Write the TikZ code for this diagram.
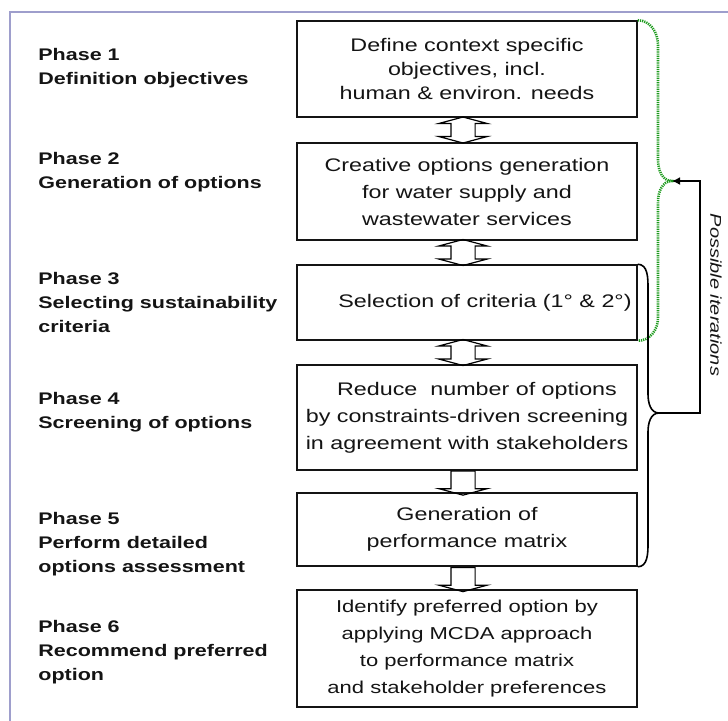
\documentclass[tikz,border=0pt]{standalone}
\usepackage{fontspec}
\setmainfont{Liberation Sans}[FakeStretch=1.28]
\usetikzlibrary{arrows.meta, shapes.arrows, calc}
\definecolor{framecol}{RGB}{158,158,204}
\definecolor{itergreen}{RGB}{30,155,30}
\definecolor{inkgray}{RGB}{20,20,20}

\begin{document}
\begin{tikzpicture}[x=0.5pt, y=-0.5pt,
    phase/.style={anchor=west, align=left, inner sep=0pt, text=inkgray,
        font=\fontsize{8.4}{12}\selectfont\bfseries},
    stage/.style={draw=inkgray, line width=0.75pt, fill=white, minimum width=170pt,
        align=center, inner sep=0pt, text=inkgray, font=\fontsize{9.1}{13.5}\selectfont},
    twoway/.style={double arrow, draw=black, line width=0.6pt, rotate=90, minimum height=13pt,
        inner xsep=1pt, inner ysep=5.75pt, double arrow head extend=6pt, double arrow tip angle=150},
    oneway/.style={single arrow, draw=black, line width=0.6pt, rotate=-90, minimum height=12pt,
        inner xsep=1pt, inner ysep=5.75pt, single arrow head extend=6pt, single arrow tip angle=150}]
    \useasboundingbox (0,0) rectangle (728,720);
    \draw[framecol, line width=1pt] (10,740) -- (10,12) -- (740,12);

    \node[phase] (p1) at (38,68) {Phase 1\\Definition objectives};
    \node[phase] (p2) at (38,172) {Phase 2\\Generation of options};
    \node[phase] (p3) at (38,302) {Phase 3\\Selecting sustainability\\criteria};
    \node[phase] (p4) at (38,412) {Phase 4\\Screening of options};
    \node[phase] (p5) at (38,544) {Phase 5\\Perform detailed\\options assessment};
    \node[phase] (p6) at (38,652) {Phase 6\\Recommend preferred\\option};

    \node[stage, minimum height=48pt, font=\fontsize{9.1}{12}\selectfont] (b1) at (467,69)
        {Define context specific\\objectives, incl.\\human \& environ. needs};
    \node[stage, minimum height=48.5pt] (b2) at (467,191.5)
        {Creative options generation\\for water supply and\\wastewater services};
    \node[stage, minimum height=37.5pt] (b3) at (467,302.5)
        {\hspace*{18pt}Selection of criteria (1° \& 2°)};
    \node[stage, minimum height=52.5pt] (b4) at (467,417.5)
        {\hspace*{10pt}Reduce~~number of options\\by constraints-driven screening\\in agreement with stakeholders};
    \node[stage, minimum height=36.5pt] (b5) at (467,529.5)
        {Generation of\\performance matrix};
    \node[stage, minimum height=58.5pt, font=\fontsize{8.6}{13.5}\selectfont] (b6) at (467,648.5)
        {Identify preferred option by\\applying MCDA approach\\to performance matrix\\and stakeholder preferences};

    \node[twoway] (a12) at ($(b1.south)!0.5!(b2.north)+(-4,0)$) {};
    \node[twoway] (a23) at ($(b2.south)!0.5!(b3.north)+(-4,0)$) {};
    \node[twoway] (a34) at ($(b3.south)!0.5!(b4.north)+(-4,0)$) {};
    \node[oneway] (a45) at ($(b4.south)!0.5!(b5.north)+(-4,0)$) {};
    \node[oneway] (a56) at ($(b5.south)!0.5!(b6.north)+(-4,0)$) {};

    \coordinate (gtip) at (672,181);
    \coordinate (btip) at (659,413);
    \draw[itergreen, line width=1.3pt, dash pattern=on 0.6pt off 0.5pt] (b1.north east) to[out=0,in=90] (658,45) -- (658,160)
        to[out=-90,in=180] (gtip) to[out=180,in=90] (658,202) -- (658,318) to[out=-90,in=0] (b3.south east);
    \draw[black, line width=0.8pt] (b3.north east) to[out=0,in=90] (648,288) -- (648,394)
        to[out=-90,in=180] (btip) to[out=180,in=90] (648,432) -- (648,544) to[out=-90,in=0] (b5.south east);
    \draw[-{Latex[length=4pt,width=4pt]}, line width=0.8pt] (btip) -| ($(gtip)+(28,0)$) -- (gtip);

    \node[rotate=-90, text=inkgray, font=\fontsize{7.8}{9}\selectfont\itshape] (iter) at (716,295) {Possible iterations};
\end{tikzpicture}
\end{document}
